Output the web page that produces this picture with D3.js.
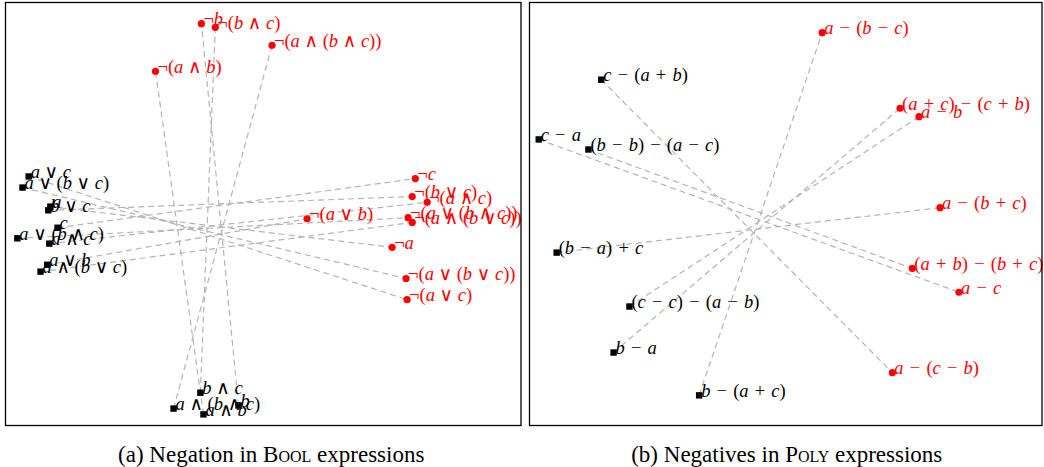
<!DOCTYPE html>
<html>
<head>
<meta charset="utf-8">
<script src="https://cdn.jsdelivr.net/npm/d3@7"></script>
<style>
  html, body { margin: 0; padding: 0; background: #fff; }
  svg { display: block; }
  .lbl { white-space: pre; }
</style>
</head>
<body>
<svg id="fig" width="1044" height="467"></svg>
<script>
// ---- Panel (a): Boolean expressions and their negations (2-D embedding) ----
const boolExprs = ["a ∨ c", "a ∨ (b ∨ c)", "b ∨ c", "a", "c", "a ∨ (b ∧ c)", "a ∧ c", "a ∨ b", "a ∧ (b ∨ c)",
                   "b ∧ c", "a ∧ (b ∧ c)", "a ∧ b", "b"];
const boolX = [-4.55, -4.67, -4.17, -4.13, -3.99, -4.77, -4.15, -4.19, -4.32, -1.22, -1.74, -1.16, -0.48];
const boolY = [0.71, 0.50, 0.07, 0.14, -0.26, -0.46, -0.56, -0.96, -1.09, -3.38, -3.68, -3.79, -3.62];

const boolNegExprs = ["¬(a ∨ c)", "¬(a ∨ (b ∨ c))", "¬(b ∨ c)", "¬a", "¬c", "¬(a ∨ (b ∧ c))", "¬(a ∧ c)", "¬(a ∨ b)", "¬(a ∧ (b ∨ c))",
                      "¬(b ∧ c)", "¬(a ∧ (b ∧ c))", "¬(a ∧ b)", "¬b"];
const boolNegX = [2.79, 2.77, 2.89, 2.50, 2.95, 2.81, 3.18, 0.85, 2.89, -0.93, 0.17, -2.09, -1.20];
const boolNegY = [-1.62, -1.22, 0.33, -0.63, 0.67, -0.07, 0.22, -0.09, -0.16, 3.53, 3.19, 2.70, 3.60];

// ---- Panel (b): polynomial expressions and their negatives ----
const polyExprs = ["c − (a + b)", "c − a", "(b − b) − (a − c)", "(b − a) + c", "(c − c) − (a − b)", "b − a", "b − (a + c)"];
const polyX = [-3.60, -4.82, -3.85, -4.47, -3.05, -3.36, -1.69];
const polyY = [2.54, 1.41, 1.22, -0.73, -1.75, -2.62, -3.43];

const polyNegExprs = ["a − (c − b)", "a − c", "(a + b) − (b + c)", "a − (b + c)", "a − b", "(a + c) − (c + b)", "a − (b − c)"];
const polyNegX = [2.08, 3.38, 2.47, 3.01, 2.60, 2.23, 0.71];
const polyNegY = [-3.00, -1.48, -1.03, 0.12, 1.84, 2.00, 3.43];

const captions = ["(a) Negation in ", "(b) Negatives in "];
const captionNames = ["Bool", "Poly"];

const svg = d3.select("#fig");
const SERIF = "'Liberation Serif', 'DejaVu Serif', serif";

// Renders a math label: variable letters italic, operators upright,
// with wider spacing around + and − as in typeset math
function mathText(sel, str) {
  const parts = str.split("");
  parts.forEach((ch, i) => {
    if (ch === " ") {
      const near = (parts[i - 1] || "") + (parts[i + 1] || "");
      sel.append("tspan").text(/[+−]/.test(near) ? "\u2004" : "\u2005");
    } else if (/[a-z]/.test(ch)) {
      sel.append("tspan").attr("font-style", "italic").text(ch);
    } else {
      sel.append("tspan").text(ch);
    }
  });
}

function panel(cfg) {
  const x = d3.scaleLinear().domain([-5, 5]).range([cfg.x0, cfg.x1]);
  const y = d3.scaleLinear().domain([-4, 4]).range([cfg.y1, cfg.y0]);
  const g = svg.append("g");

  const src = cfg.srcX.map((v, i) => ({ x: v, y: cfg.srcY[i], t: cfg.srcT[i] }));
  const dst = cfg.dstX.map((v, i) => ({ x: v, y: cfg.dstY[i], t: cfg.dstT[i] }));

  // pairing lines
  g.selectAll("line.pair").data(src).join("line")
    .attr("class", "pair")
    .attr("x1", d => x(d.x)).attr("y1", d => y(d.y))
    .attr("x2", (d, i) => x(dst[i].x)).attr("y2", (d, i) => y(dst[i].y))
    .attr("stroke", "#b3b3b3").attr("stroke-width", 1.2)
    .attr("stroke-dasharray", "6,4");

  // original expressions: black squares
  g.selectAll("rect.src").data(src).join("rect")
    .attr("class", "src")
    .attr("x", d => x(d.x) - 3.2).attr("y", d => y(d.y) - 3.2)
    .attr("width", 6.4).attr("height", 6.4)
    .attr("fill", "#000");

  // negated expressions: red dots
  g.selectAll("circle.dst").data(dst).join("circle")
    .attr("class", "dst")
    .attr("cx", d => x(d.x)).attr("cy", d => y(d.y))
    .attr("r", 3.6).attr("fill", "#ff0000");

  const addLabels = (data, color) => {
    data.forEach(d => {
      const t = g.append("text").attr("class", "lbl")
        .attr("x", x(d.x) + 2).attr("y", y(d.y) + 1.5)
        .attr("font-family", SERIF).attr("font-size", 18.5)
        .attr("fill", color);
      mathText(t, d.t);
    });
  };
  addLabels(src, "#000");
  addLabels(dst, "#ff0000");

  // frame
  svg.append("rect")
    .attr("x", cfg.x0).attr("y", cfg.y0)
    .attr("width", cfg.x1 - cfg.x0).attr("height", cfg.y1 - cfg.y0)
    .attr("fill", "none").attr("stroke", "#000").attr("stroke-width", 1.3);

  // caption
  const c = svg.append("text")
    .attr("x", (cfg.x0 + cfg.x1) / 2 + cfg.capShift).attr("y", 462)
    .attr("text-anchor", "middle")
    .attr("font-family", SERIF).attr("font-size", 23).attr("fill", "#000");
  c.append("tspan").text(cfg.caption);
  c.append("tspan").attr("font-variant", "small-caps").text(cfg.name);
  c.append("tspan").text(" expressions");
}

panel({ x0: 5.5, x1: 521, y0: 2.5, y1: 425.5,
        srcX: boolX, srcY: boolY, srcT: boolExprs,
        dstX: boolNegX, dstY: boolNegY, dstT: boolNegExprs,
        caption: captions[0], name: captionNames[0], capShift: 8 });
panel({ x0: 529.5, x1: 1042, y0: 2.5, y1: 425.5,
        srcX: polyX, srcY: polyY, srcT: polyExprs,
        dstX: polyNegX, dstY: polyNegY, dstT: polyNegExprs,
        caption: captions[1], name: captionNames[1], capShift: 1 });
</script>
</body>
</html>
